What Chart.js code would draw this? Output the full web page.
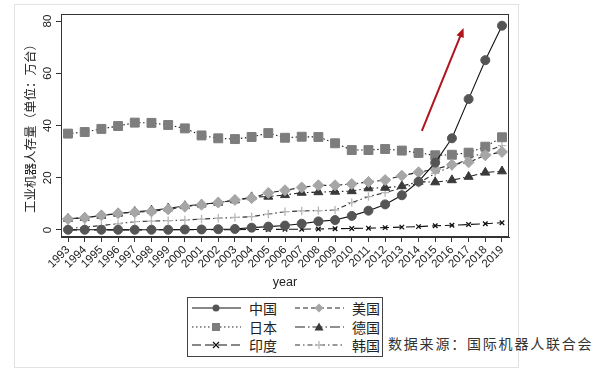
<!DOCTYPE html>
<html>
<head>
<meta charset="utf-8">
<script src="https://cdn.jsdelivr.net/npm/chart.js@4.4.1/dist/chart.umd.min.js"></script>
<style>
  html, body { margin: 0; padding: 0; background: #fff; }
  body { width: 598px; height: 372px; position: relative; overflow: hidden; font-family: "Liberation Sans", Arial, sans-serif; }
  #panel { position: absolute; left: 14px; top: 4px; width: 503px; height: 362px; border: 1.5px solid #e2e2e2; }
  #chart { position: absolute; left: 0; top: 0; }
  #legend { position: absolute; left: 187px; top: 297px; width: 194px; height: 57px; border: 1px solid #444; background: #fff;
            display: grid; grid-template-columns: 103px 91px; grid-auto-rows: 18.6px; padding-top: 1px; }
  .item { display: flex; align-items: center; font-family: "Noto Sans CJK SC", sans-serif; font-size: 14px; color: #222; white-space: nowrap; }
  .item svg { margin-left: 4px; margin-right: 8px; flex-shrink: 0; }
  #source { position: absolute; left: 388px; top: 333px; font-family: "Noto Sans CJK SC", sans-serif; font-size: 14px;
            letter-spacing: 1.8px; color: #333; white-space: nowrap; }
</style>
</head>
<body>
<div id="panel"></div>
<canvas id="chart" width="598" height="300"></canvas>
<div id="legend"></div>
<div id="source">数据来源：国际机器人联合会</div>
<script>
// données (万台)
const years = [1993,1994,1995,1996,1997,1998,1999,2000,2001,2002,2003,2004,2005,2006,2007,2008,2009,2010,2011,2012,2013,2014,2015,2016,2017,2018,2019];
const china   = [0.1,0.1,0.1,0.1,0.1,0.1,0.1,0.2,0.2,0.3,0.4,0.9,1.3,1.7,2.4,3.3,3.8,5.4,7.4,9.8,13.3,18.5,25.8,35.1,50.1,65.0,78.2];
const japan   = [36.9,37.5,38.7,39.8,41.1,41.0,40.2,38.9,36.2,35.1,34.8,35.6,37.1,35.3,35.7,35.6,33.2,30.6,30.6,31.0,30.4,29.5,28.6,28.8,29.6,31.9,35.5];
const india   = [0.05,0.05,0.05,0.05,0.05,0.05,0.1,0.1,0.1,0.1,0.1,0.2,0.2,0.3,0.3,0.4,0.5,0.6,0.7,0.9,1.1,1.3,1.6,1.8,2.1,2.4,2.8];
const usa     = [4.2,4.7,5.6,6.4,6.8,7.1,7.9,8.9,9.7,10.5,11.5,12.2,14.2,15.2,16.3,17.1,17.1,17.6,18.4,19.1,20.8,22.1,23.3,25.0,25.9,28.6,29.9];
const germany = [4.3,4.7,5.5,6.3,7.0,7.5,8.3,9.2,9.8,10.5,11.4,12.6,12.8,13.4,14.3,14.5,14.7,14.9,16.0,16.2,16.8,18.5,18.3,19.1,20.4,22.0,22.5];
const korea   = [0.6,1.1,1.7,2.4,3.2,3.4,3.6,3.8,4.2,4.5,4.8,5.1,6.1,7.0,7.3,7.4,7.6,10.5,12.8,14.3,16.1,17.9,21.7,24.4,27.3,30.0,32.3];
const yTicks = [0, 20, 40, 60, 80];
const arrowFrom = [2014.2, 37.9];
const arrowTo = [2016.7, 77.3];

function pts(arr) { return years.map((y, i) => ({ x: y, y: arr[i] })); }

// style de chaque série (ordre du tableau de légende)
const series = [
  { label: '中国', data: china,   dash: [],            line: '#111', fill: '#555', style: 'circle',    r: 4.5 },
  { label: '美国', data: usa,     dash: [5, 3],        line: '#222', fill: '#a6a6a6', style: 'rectRot', r: 5.5 },
  { label: '日本', data: japan,   dash: [1.5, 2.5],    line: '#222', fill: '#7d7d7d', style: 'rect',    r: 6.3 },
  { label: '德国', data: germany, dash: [10, 3, 1.5, 3], line: '#222', fill: '#3a3a3a', style: 'triangle', r: 5.2 },
  { label: '印度', data: india,   dash: [9, 4],        line: '#111', fill: '#111', style: 'crossRot',  r: 3.2 },
  { label: '韩国', data: korea,   dash: [5, 3, 1.5, 3], line: '#333', fill: '#b8b8b8', style: 'cross',   r: 4.2 }
];

const datasets = series.map(s => ({
  label: s.label,
  data: pts(s.data),
  borderColor: s.line,
  borderWidth: 1.1,
  borderDash: s.dash,
  pointStyle: s.style,
  pointRadius: s.r,
  pointBackgroundColor: s.fill,
  pointBorderColor: s.fill,
  pointBorderWidth: (s.style === 'cross' || s.style === 'crossRot') ? 1.3 : 1,
  tension: 0
}));

// cadre du graphique + flèche rouge
const framePlugin = {
  id: 'frame',
  afterDatasetsDraw(chart) {
    const { ctx, chartArea: a, scales } = chart;
    ctx.save();
    ctx.strokeStyle = '#333';
    ctx.lineWidth = 1;
    ctx.strokeRect(a.left + 0.5, a.top + 0.5, a.right - a.left - 1, a.bottom - a.top - 1);

    const x1 = scales.x.getPixelForValue(arrowFrom[0]), y1 = scales.y.getPixelForValue(arrowFrom[1]);
    const x2 = scales.x.getPixelForValue(arrowTo[0]), y2 = scales.y.getPixelForValue(arrowTo[1]);
    const ang = Math.atan2(y2 - y1, x2 - x1);
    const head = 10;
    ctx.strokeStyle = '#b0141c';
    ctx.fillStyle = '#b0141c';
    ctx.lineWidth = 2;
    ctx.beginPath();
    ctx.moveTo(x1, y1);
    ctx.lineTo(x2 - Math.cos(ang) * head * 0.8, y2 - Math.sin(ang) * head * 0.8);
    ctx.stroke();
    ctx.beginPath();
    ctx.moveTo(x2, y2);
    ctx.lineTo(x2 - head * Math.cos(ang - 0.4), y2 - head * Math.sin(ang - 0.4));
    ctx.lineTo(x2 - head * Math.cos(ang + 0.4), y2 - head * Math.sin(ang + 0.4));
    ctx.closePath();
    ctx.fill();
    ctx.restore();
  }
};

const tickFont = { family: '"Liberation Sans", Arial, sans-serif', size: 11.5 };

new Chart(document.getElementById('chart').getContext('2d'), {
  type: 'line',
  data: { datasets: datasets },
  options: {
    responsive: false,
    devicePixelRatio: 1,
    animation: false,
    layout: { padding: { left: 14, top: 14, right: 89, bottom: 8 } },
    plugins: { legend: { display: false }, tooltip: { enabled: false } },
    scales: {
      x: {
        type: 'linear',
        min: 1992.58,
        max: 2019.42,
        afterBuildTicks: s => { s.ticks = years.map(v => ({ value: v })); },
        afterFit: s => { s.height = 55; },
        grid: { drawOnChartArea: false, drawTicks: true, tickLength: 5, color: '#333' },
        border: { display: true, color: '#333' },
        ticks: { autoSkip: false, minRotation: 45, maxRotation: 45, padding: 1, color: '#222', font: tickFont,
                 callback: v => String(v) },
        title: { display: true, text: 'year', color: '#222', font: { family: '"Liberation Sans", Arial, sans-serif', size: 12.5 },
                 padding: { top: 0, bottom: 2 } }
      },
      y: {
        min: -2.68,
        max: 82.68,
        afterBuildTicks: s => { s.ticks = yTicks.map(v => ({ value: v })); },
        afterFit: s => { s.width = 47; },
        grid: { drawOnChartArea: false, drawTicks: true, tickLength: 5, color: '#333' },
        border: { display: true, color: '#333' },
        ticks: { minRotation: 90, maxRotation: 90, crossAlign: 'center', padding: 2, color: '#222', font: tickFont },
        title: { display: true, text: '工业机器人存量（单位：万台）', color: '#222',
                 font: { family: '"Noto Sans CJK SC", sans-serif', size: 12.5 }, padding: { top: 9, bottom: 0 } }
      }
    }
  },
  plugins: [framePlugin]
});

// légende en deux colonnes, comme dans l'original
function symbolSvg(s) {
  const dash = s.dash.length ? s.dash.join(',') : 'none';
  let m = '';
  const cx = 24, cy = 5;
  if (s.style === 'circle') m = `<circle cx="${cx}" cy="${cy}" r="3.5" fill="${s.fill}"/>`;
  else if (s.style === 'rect') m = `<rect x="${cx - 4}" y="${cy - 4}" width="8" height="8" fill="${s.fill}"/>`;
  else if (s.style === 'rectRot') m = `<polygon points="${cx},${cy - 4.5} ${cx + 4.5},${cy} ${cx},${cy + 4.5} ${cx - 4.5},${cy}" fill="${s.fill}"/>`;
  else if (s.style === 'triangle') m = `<polygon points="${cx},${cy - 4.5} ${cx + 4.5},${cy + 3.5} ${cx - 4.5},${cy + 3.5}" fill="${s.fill}"/>`;
  else if (s.style === 'crossRot') m = `<path d="M${cx - 3},${cy - 3}L${cx + 3},${cy + 3}M${cx + 3},${cy - 3}L${cx - 3},${cy + 3}" stroke="${s.fill}" stroke-width="1.3"/>`;
  else if (s.style === 'cross') m = `<path d="M${cx - 4},${cy}L${cx + 4},${cy}M${cx},${cy - 4}L${cx},${cy + 4}" stroke="${s.fill}" stroke-width="1.3"/>`;
  return `<svg width="49" height="10"><line x1="0" y1="5" x2="49" y2="5" stroke="${s.line}" stroke-width="1.1" stroke-dasharray="${dash}"/>${m}</svg>`;
}
const legend = document.getElementById('legend');
series.forEach(s => {
  const d = document.createElement('div');
  d.className = 'item';
  d.innerHTML = symbolSvg(s) + '<span>' + s.label + '</span>';
  legend.appendChild(d);
});
</script>
</body>
</html>
